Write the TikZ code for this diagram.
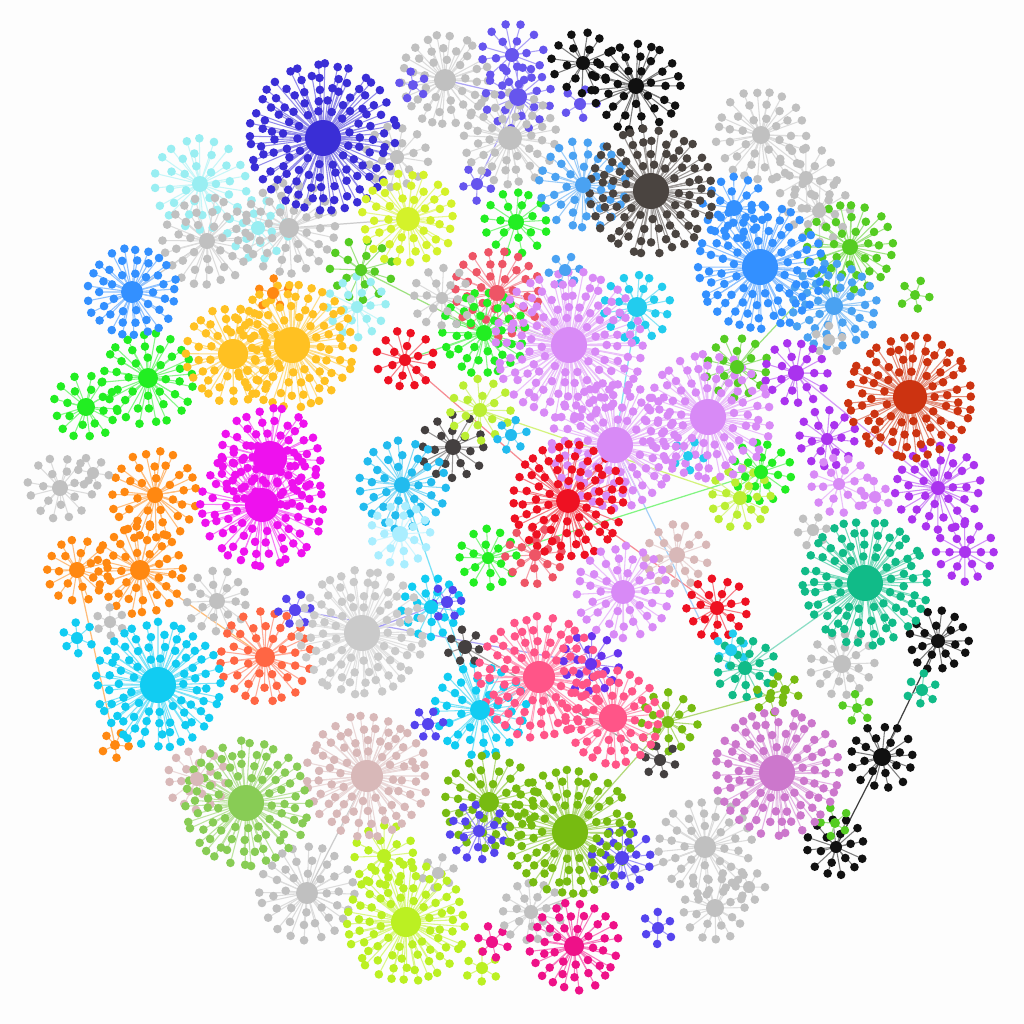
\documentclass[tikz,border=0pt]{standalone}
\definecolor{bg}{HTML}{FDFDFD}
\definecolor{dblue}{HTML}{3A2ED6}
\definecolor{gry}{HTML}{C0C0C0}
\definecolor{lgry}{HTML}{CACACA}
\definecolor{bviol}{HTML}{6655EE}
\definecolor{blk}{HTML}{111111}
\definecolor{dbrown}{HTML}{4A4440}
\definecolor{ylime}{HTML}{D4F22A}
\definecolor{grn}{HTML}{22EE22}
\definecolor{sblue}{HTML}{4AA2F2}
\definecolor{rblue}{HTML}{3390FF}
\definecolor{lcyan}{HTML}{99EEF2}
\definecolor{lgreen}{HTML}{55CC22}
\definecolor{oyel}{HTML}{FFC122}
\definecolor{rpink}{HTML}{EE5566}
\definecolor{red}{HTML}{EE1122}
\definecolor{viol}{HTML}{D88AF6}
\definecolor{cyan}{HTML}{22CCEE}
\definecolor{rorange}{HTML}{CC3311}
\definecolor{mag}{HTML}{EE11EE}
\definecolor{orng}{HTML}{FF8811}
\definecolor{dgry}{HTML}{444040}
\definecolor{bcyan}{HTML}{22BBEE}
\definecolor{pcyan}{HTML}{AAEEFF}
\definecolor{ygreen}{HTML}{BBEE33}
\definecolor{purp}{HTML}{AA33EE}
\definecolor{teal}{HTML}{11BB88}
\definecolor{salm}{HTML}{FF6644}
\definecolor{ccyan}{HTML}{11CCF2}
\definecolor{beige}{HTML}{D8B8B8}
\definecolor{pink}{HTML}{FF5588}
\definecolor{vblue}{HTML}{6633EE}
\definecolor{mgreen}{HTML}{88CC55}
\definecolor{olive}{HTML}{77BB11}
\definecolor{ppink}{HTML}{CC77CC}
\definecolor{lime}{HTML}{BBF022}
\definecolor{dpink}{HTML}{EE1188}
\definecolor{pblue}{HTML}{5544EE}
\tikzset{leafedge/.style={line width=0.3pt},bridge/.style={line width=0.35pt,opacity=0.8}}
% drawing pass: 0 = edges, 1 = leaves, 2 = hubs
\newcount\cPass
% cluster: x, y, colour, hub radius, outer radius, spacing (pixels)
\newcommand\clu[6]{%
 \ifnum\cPass=2
   \fill[#3] (#1,#2) circle (#4);
 \else
 \pgfmathtruncatemacro\cRings{max(1,floor((#5-#4-9)/#6)+1)}%
 \foreach \k in {1,...,\cRings}{%
  \pgfmathsetmacro\cRad{#4+9+(\k-1)*#6}%
  \pgfmathtruncatemacro\cNum{max(4,2*pi*\cRad/(#6+1))}%
  \pgfmathsetmacro\cOff{rnd*360}%
  \foreach \i in {1,...,\cNum}{%
    \pgfmathsetmacro\cAng{\cOff+\i*360/\cNum+rand*4}%
    \pgfmathsetmacro\cDist{\cRad+rand*1.8}%
    \ifnum\cPass=0
      \draw[leafedge,#3!55!white] (#1,#2) -- ++(\cAng:\cDist);
    \else
      \fill[#3] (#1,#2) ++(\cAng:\cDist) circle (4.3);
    \fi
  }}%
 \fi}
\newcommand\allclusters{%
\clu{445}{80}{gry}{11}{54}{12}
\clu{413}{85}{bviol}{5}{28}{16}
\clu{512}{55}{bviol}{7}{32}{15}
\clu{518}{97}{bviol}{9}{42}{14}
\clu{580}{104}{bviol}{6}{25}{15}
\clu{477}{184}{bviol}{6}{25}{15}
\clu{583}{63}{blk}{7}{33}{14}
\clu{636}{86}{blk}{8}{52}{13}
\clu{510}{138}{gry}{12}{55}{12}
\clu{397}{157}{gry}{7}{36}{14}
\clu{761}{135}{gry}{9}{48}{13}
\clu{806}{178}{gry}{7}{33}{14}
\clu{819}{211}{gry}{7}{33}{14}
\clu{734}{208}{rblue}{8}{42}{13}
\clu{516}{222}{grn}{8}{38}{13}
\clu{583}{185}{sblue}{8}{48}{13}
\clu{565}{270}{sblue}{6}{25}{14}
\clu{200}{184}{lcyan}{8}{52}{14}
\clu{258}{228}{lcyan}{7}{38}{14}
\clu{207}{241}{gry}{8}{48}{13}
\clu{289}{228}{gry}{10}{48}{13}
\clu{273}{293}{orng}{6}{25}{15}
\clu{361}{270}{lgreen}{6}{33}{15}
\clu{357}{307}{lcyan}{6}{33}{14}
\clu{850}{247}{lgreen}{8}{43}{13}
\clu{834}{306}{sblue}{9}{48}{12}
\clu{829}{340}{gry}{6}{25}{15}
\clu{915}{295}{lgreen}{5}{20}{15}
\clu{148}{378}{grn}{10}{48}{13}
\clu{86}{407}{grn}{9}{43}{13}
\clu{497}{293}{rpink}{8}{43}{13}
\clu{405}{360}{red}{6}{40}{13}
\clu{484}{333}{grn}{8}{43}{12}
\clu{442}{298}{gry}{6}{30}{14}
\clu{637}{307}{cyan}{10}{43}{13}
\clu{155}{495}{orng}{8}{48}{13}
\clu{60}{488}{gry}{8}{35}{14}
\clu{93}{473}{gry}{6}{28}{14}
\clu{77}{570}{orng}{8}{38}{13}
\clu{140}{570}{orng}{10}{46}{12}
\clu{453}{447}{dgry}{8}{43}{14}
\clu{402}{485}{bcyan}{8}{43}{13}
\clu{400}{534}{pcyan}{8}{38}{13}
\clu{480}{410}{ygreen}{7}{33}{14}
\clu{511}{435}{bcyan}{6}{28}{14}
\clu{737}{367}{lgreen}{7}{36}{14}
\clu{761}{472}{grn}{7}{38}{13}
\clu{740}{498}{ygreen}{7}{38}{13}
\clu{938}{488}{purp}{7}{43}{13}
\clu{965}{552}{purp}{6}{36}{13}
\clu{796}{373}{purp}{8}{38}{13}
\clu{827}{439}{purp}{6}{32}{13}
\clu{839}{484}{viol}{6}{28}{13}
\clu{875}{497}{viol}{6}{28}{14}
\clu{813}{530}{gry}{6}{28}{14}
\clu{688}{456}{cyan}{5}{25}{14}
\clu{217}{601}{gry}{8}{38}{13}
\clu{110}{622}{gry}{6}{28}{14}
\clu{265}{657}{salm}{10}{48}{13}
\clu{488}{558}{grn}{6}{33}{13}
\clu{535}{555}{rpink}{6}{36}{13}
\clu{677}{555}{beige}{8}{38}{13}
\clu{717}{608}{red}{7}{36}{13}
\clu{731}{650}{cyan}{6}{28}{14}
\clu{745}{668}{teal}{7}{36}{13}
\clu{842}{664}{gry}{9}{43}{13}
\clu{938}{641}{blk}{7}{36}{13}
\clu{922}{690}{teal}{6}{28}{14}
\clu{882}{757}{blk}{9}{43}{13}
\clu{857}{708}{lgreen}{5}{22}{14}
\clu{770}{698}{olive}{5}{25}{14}
\clu{591}{664}{vblue}{6}{30}{13}
\clu{480}{710}{ccyan}{10}{48}{13}
\clu{431}{607}{ccyan}{7}{32}{13}
\clu{447}{602}{pblue}{6}{22}{14}
\clu{465}{647}{dgry}{7}{28}{13}
\clu{428}{724}{pblue}{6}{25}{14}
\clu{295}{610}{pblue}{6}{28}{14}
\clu{197}{779}{beige}{7}{38}{13}
\clu{115}{745}{orng}{5}{25}{14}
\clu{77}{638}{ccyan}{6}{25}{14}
\clu{489}{802}{olive}{10}{48}{13}
\clu{307}{893}{gry}{11}{50}{13}
\clu{384}{856}{lime}{7}{30}{14}
\clu{438}{873}{gry}{6}{28}{14}
\clu{482}{968}{lime}{6}{25}{14}
\clu{492}{942}{dpink}{6}{25}{14}
\clu{531}{912}{gry}{7}{36}{13}
\clu{705}{847}{gry}{11}{48}{13}
\clu{715}{908}{gry}{9}{43}{13}
\clu{749}{887}{gry}{6}{28}{14}
\clu{622}{858}{pblue}{7}{38}{13}
\clu{658}{928}{pblue}{6}{25}{14}
\clu{479}{831}{pblue}{6}{33}{13}
\clu{668}{722}{olive}{6}{33}{13}
\clu{660}{760}{dgry}{6}{28}{14}
\clu{836}{847}{blk}{6}{30}{13}
\clu{835}{823}{lgreen}{5}{20}{14}
\clu{785}{690}{olive}{5}{22}{14}
\clu{323}{138}{dblue}{18}{82}{11.5}
\clu{651}{191}{dbrown}{18}{68}{11.5}
\clu{408}{219}{ylime}{12}{56}{12}
\clu{760}{267}{rblue}{18}{72}{11.5}
\clu{132}{292}{rblue}{11}{50}{12}
\clu{233}{354}{oyel}{15}{56}{11.5}
\clu{292}{345}{oyel}{18}{70}{11.5}
\clu{569}{345}{viol}{18}{74}{11.5}
\clu{910}{397}{rorange}{17}{68}{11.5}
\clu{708}{417}{viol}{18}{64}{11.5}
\clu{615}{445}{viol}{18}{64}{11.5}
\clu{270}{458}{mag}{17}{58}{11.5}
\clu{262}{505}{mag}{17}{64}{11.5}
\clu{568}{501}{red}{12}{58}{11.5}
\clu{865}{583}{teal}{18}{70}{11.5}
\clu{362}{633}{lgry}{18}{70}{11.5}
\clu{158}{685}{ccyan}{18}{66}{11.5}
\clu{623}{592}{viol}{12}{52}{12}
\clu{539}{677}{pink}{16}{60}{11.5}
\clu{613}{718}{pink}{14}{48}{11.5}
\clu{367}{776}{beige}{16}{62}{11.5}
\clu{246}{803}{mgreen}{18}{64}{11.5}
\clu{570}{832}{olive}{18}{64}{11.5}
\clu{777}{773}{ppink}{18}{64}{11.5}
\clu{406}{922}{lime}{15}{60}{11.5}
\clu{574}{946}{dpink}{10}{50}{12}
}
\begin{document}
\begin{tikzpicture}[x=0.01cm,y=-0.01cm]
\fill[bg] (0,0) rectangle (1024,1024);
\useasboundingbox (0,0) rectangle (1024,1024);
% bridges between clusters
\draw[bridge,red!60!white] (568,501) -- (405,360);
\draw[bridge,red!60!white] (568,501) -- (717,608);
\draw[bridge,grn!70!white] (488,558) -- (761,472);
\draw[bridge,grn!70!white] (484,333) -- (405,360);
\draw[bridge,pblue!60!white] (295,610) -- (591,664);
\draw[bridge,pblue!60!white] (431,607) -- (362,633);
\draw[bridge,ygreen!80!white] (480,410) -- (740,498);
\draw[bridge,sblue!60!white] (615,445) -- (700,620);
\draw[bridge,gry] (442,298) -- (569,345);
\draw[bridge,gry] (289,228) -- (408,219);
\draw[bridge,gry] (207,241) -- (132,292);
\draw[bridge,orng!70!white] (140,570) -- (265,657);
\draw[bridge,orng!70!white] (77,570) -- (115,745);
\draw[bridge,lgreen!70!white] (850,247) -- (737,367);
\draw[bridge,purp!60!white] (796,373) -- (938,488);
\draw[bridge,blk] (938,641) -- (882,757);
\draw[bridge,blk] (882,757) -- (836,847);
\draw[bridge,olive!70!white] (668,722) -- (570,832);
\draw[bridge,olive!70!white] (668,722) -- (785,690);
\draw[bridge,cyan!70!white] (637,307) -- (615,445);
\draw[bridge,ccyan!70!white] (402,485) -- (480,710);
\draw[bridge,gry] (531,912) -- (705,847);
\draw[bridge,gry] (307,893) -- (367,776);
\draw[bridge,rpink!60!white] (497,293) -- (569,345);
\draw[bridge,teal!60!white] (745,668) -- (865,583);
\draw[bridge,dgry!60!white] (453,447) -- (402,485);
\draw[bridge,pblue!60!white] (518,97) -- (445,80);
\draw[bridge,pblue!60!white] (518,97) -- (477,184);
\draw[bridge,sblue!60!white] (734,208) -- (760,267);
\draw[bridge,dgry!60!white] (465,647) -- (660,760);
\draw[bridge,lgreen!70!white] (361,270) -- (484,333);
\draw[bridge,cyan!60!white] (431,607) -- (480,710);
% pass 0: spokes, pass 1: leaves, pass 2: hubs
\global\cPass=0 \pgfmathsetseed{7}\allclusters
\global\cPass=1 \pgfmathsetseed{7}\allclusters
\global\cPass=2 \allclusters
\end{tikzpicture}
\end{document}
